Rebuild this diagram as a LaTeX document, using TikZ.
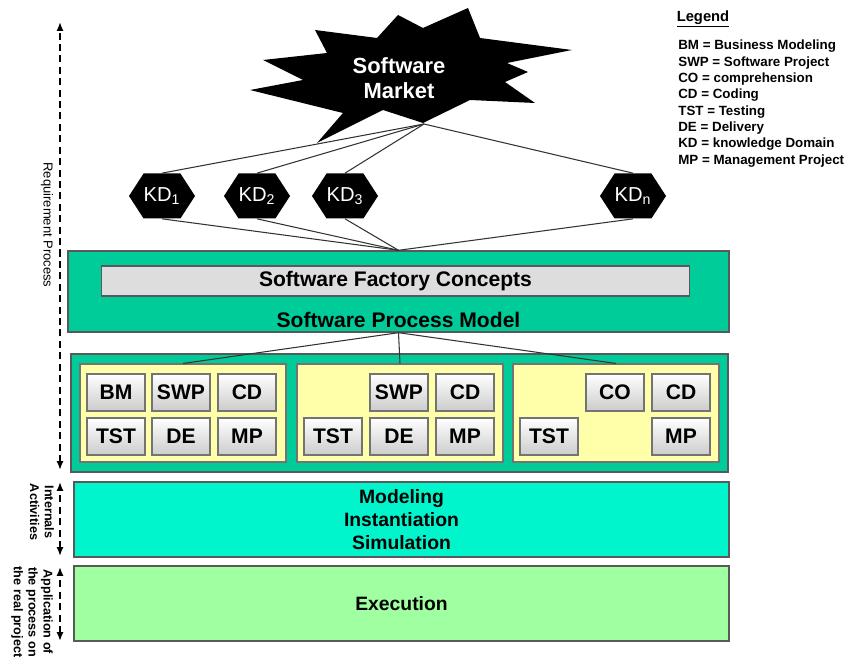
\documentclass[tikz,border=0pt]{standalone}
\usepackage{fontspec}
\setmainfont{Liberation Sans}
\usepackage{tikz}
\definecolor{spmGreen}{RGB}{0,204,153}
\definecolor{conceptGray}{RGB}{221,221,221}
\definecolor{stepYellow}{RGB}{255,255,170}
\definecolor{simTeal}{RGB}{0,245,204}
\definecolor{execGreen}{RGB}{160,255,160}
\usetikzlibrary{arrows.meta}
\usetikzlibrary{shapes.symbols,positioning}

\begin{document}
\begin{tikzpicture}[x=0.02cm,y=-0.02cm,every node/.style={rectangle,inner sep=0pt},
    layer/.style={draw=black!65, line width=0.8pt, font=\fontsize{11}{13.3}\selectfont\bfseries, align=center},
    stepbox/.style={draw=black!55, fill=stepYellow, line width=0.6pt, minimum width=4.12cm, minimum height=1.96cm},
    act/.style={draw=black!55, line width=0.6pt, top color=white, bottom color=black!20, minimum width=1.16cm, minimum height=0.74cm, font=\fontsize{12}{14}\selectfont\bfseries},
    kd/.style={signal, signal to=east and west, signal pointer angle=114, fill=black, text=white, minimum height=0.9cm, font=\fontsize{11.5}{13}\selectfont},
    link/.style={draw=black!80, line width=0.6pt},
    flow/.style={dashed, dash pattern=on 4pt off 2.5pt, line width=1.1pt, {Latex[length=5pt,width=4pt]}-{Latex[length=5pt,width=4pt]}},
    side/.style={rotate=-90, align=center, font=\fontsize{7.2}{8.5}\selectfont\bfseries},
    ]
    \useasboundingbox (0,0) rectangle (852,661);

    % market
    \fill (468,8) -- (480,38) -- (572,50) -- (507,63) -- (528,72) -- (505,82) -- (535,103) -- (470,100) -- (423,123) -- (383,110) -- (317,143) -- (343,113) -- (250,90) -- (303,80) -- (263,60) -- (327,53) -- (315,30) -- (377,38) -- (398,15) -- (423,28) -- cycle;
    \node[text=white, align=center, font=\fontsize{12.5}{14.5}\selectfont\bfseries] (market) at (399,78) {Software\\Market};
    \coordinate (marketTip) at (424,124);

    % knowledge domains
    \node[kd] (kd1) at (162,196) {KD\textsubscript{1}};
    \node[kd] (kd2) at (257,196) {KD\textsubscript{2}};
    \node[kd] (kd3) at (345,196) {KD\textsubscript{3}};
    \node[kd] (kdn) at (633,196) {KD\textsubscript{n}};

    % process model
    \node[layer, fill=spmGreen, minimum width=13.22cm, minimum height=1.62cm] (spm) at (398.5,291.5) {};
    \node[draw=black!65, line width=0.6pt, fill=conceptGray, minimum width=11.78cm, minimum height=0.6cm, font=\fontsize{12}{14}\selectfont\bfseries] (sfc) at (395.5,281) {Software Factory Concepts};
    \node[font=\fontsize{12}{14}\selectfont\bfseries] (spmText) at (398.5,320) {Software Process Model};

    % activities
    \node[layer, fill=spmGreen, minimum width=13.14cm, minimum height=2.36cm] (steps) at (399.5,413) {};
    \node[stepbox] (yb1) at (183,413) {};
    \node[stepbox] (yb2) at (400,413) {};
    \node[stepbox] (yb3) at (616,413) {};

    \node[act] (bm1) at (116,392.5) {BM};
    \node[act] (swp1) at (181,392.5) {SWP};
    \node[act] (cd1) at (247,392.5) {CD};
    \node[act] (tst1) at (116,436.5) {TST};
    \node[act] (de1) at (181,436.5) {DE};
    \node[act] (mp1) at (247,436.5) {MP};

    \node[act] (swp2) at (399,392.5) {SWP};
    \node[act] (cd2) at (465,392.5) {CD};
    \node[act] (tst2) at (333,436.5) {TST};
    \node[act] (de2) at (399,436.5) {DE};
    \node[act] (mp2) at (465,436.5) {MP};

    \node[act] (co3) at (615,392.5) {CO};
    \node[act] (cd3) at (681,392.5) {CD};
    \node[act] (tst3) at (549,436.5) {TST};
    \node[act] (mp3) at (681,436.5) {MP};

    % lower layers
    \node[layer, fill=simTeal, minimum width=13.1cm, minimum height=1.5cm] (sim) at (401.5,519.5) {Modeling\\Instantiation\\Simulation};
    \node[layer, fill=execGreen, minimum width=13.1cm, minimum height=1.5cm] (exec) at (401.5,603.5) {Execution};

    % links
    \draw[link] (marketTip) -- (kd1.north);
    \draw[link] (marketTip) -- (kd2.north);
    \draw[link] (marketTip) -- (kd3.north);
    \draw[link] (marketTip) -- (kdn.north);
    \draw[link] (kd1.south) -- (spm.north);
    \draw[link] (kd2.south) -- (spm.north);
    \draw[link] (kd3.south) -- (spm.north);
    \draw[link] (kdn.south) -- (spm.north);
    \draw[link] (spm.south) -- (yb1.north);
    \draw[link] (spm.south) -- (yb2.north);
    \draw[link] (spm.south) -- (yb3.north);

    % phases
    \coordinate (reqTop) at (60,22);
    \coordinate (reqBot) at (60,470);
    \coordinate (intTop) at (60,482);
    \coordinate (intBot) at (60,556);
    \coordinate (appTop) at (60,567);
    \coordinate (appBot) at (60,641);
    \draw[flow] (reqBot) -- (reqTop);
    \draw[flow] (intBot) -- (intTop);
    \draw[flow] (appBot) -- (appTop);
    \node[side, font=\fontsize{7.4}{8.5}\selectfont] (reqText) at (47,225) {Requirement Process};
    \node[side] (intText) at (42,512) {Internals\\Activities};
    \node[side] (appText) at (32,612) {Application of\\the process on\\the real project};

    % legend
    \node[font=\fontsize{8.4}{10}\selectfont\bfseries] (legendTitle) at (703,19) {\underline{Legend}};
    \node[anchor=west, align=left, font=\fontsize{7.6}{9.3}\selectfont\bfseries] (legend) at (678,103.5) {BM = Business Modeling\\SWP = Software Project\\CO = comprehension\\CD = Coding\\TST = Testing\\DE = Delivery\\KD = knowledge Domain\\MP = Management Project};
\end{tikzpicture}
\end{document}
